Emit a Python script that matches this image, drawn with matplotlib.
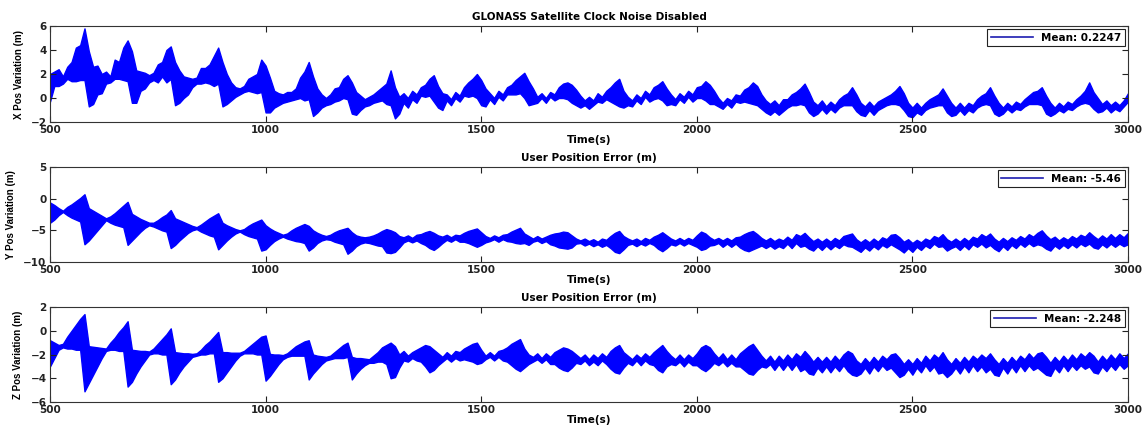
import matplotlib
matplotlib.use("Agg")
import matplotlib.pyplot as plt
from matplotlib.lines import Line2D

plt.rcParams["font.family"] = ["DejaVu Sans"]
plt.rcParams["font.weight"] = "bold"
plt.rcParams["font.size"] = 7.5

# sample times (s), one every 10 s from 500 to 3000
TIME_S = list(range(500, 3001, 10))

# X position error: upper / lower edge of the noise band (m), one row = 100 s
X_HI = [
    2.0, 2.2, 2.4, 1.8, 2.6, 3.0, 4.2, 4.4, 5.8, 3.9,
    2.6, 2.7, 2.0, 2.2, 1.8, 3.2, 3.0, 4.2, 4.8, 3.9,
    2.3, 2.2, 2.1, 1.9, 2.1, 2.8, 3.0, 4.0, 4.3, 3.0,
    2.3, 1.8, 1.7, 1.6, 1.7, 2.5, 2.5, 2.8, 3.5, 4.2,
    3.0, 2.0, 1.3, 0.9, 0.8, 1.0, 1.6, 1.8, 2.0, 3.2,
    2.7, 1.7, 0.6, 0.4, 0.3, 0.5, 0.5, 0.8, 1.7, 2.2,
    3.0, 1.8, 0.8, 0.3, 0.0, 0.3, 0.8, 0.9, 1.6, 1.9,
    1.3, 0.5, 0.2, -0.1, 0.1, 0.3, 0.6, 0.9, 1.2, 2.3,
    0.9, 0.1, 0.4, 0.0, 0.6, 0.3, 0.9, 1.1, 1.6, 1.9,
    1.0, 0.4, 0.3, -0.1, 0.5, 0.2, 0.9, 1.3, 1.6, 2.0,
    1.5, 0.8, 0.4, 0.0, 0.6, 0.3, 0.9, 1.1, 1.5, 1.8,
    2.1, 1.4, 0.8, 0.1, 0.4, 0.0, 0.5, 0.3, 0.9, 1.2,
    1.3, 1.1, 0.7, 0.2, -0.2, 0.1, -0.2, 0.4, 0.1, 0.6,
    0.9, 1.3, 1.6, 0.6, 0.1, -0.2, 0.3, 0.0, 0.6, 0.3,
    0.9, 1.1, 1.4, 0.8, 0.3, -0.1, 0.4, 0.1, 0.6, 0.3,
    0.9, 1.0, 1.4, 1.1, 0.6, 0.0, -0.4, 0.0, -0.2, 0.3,
    0.2, 0.7, 0.9, 1.3, 1.0, 0.3, -0.2, -0.5, -0.2, -0.6,
    -0.1, -0.1, 0.3, 0.5, 0.8, 1.2, 0.5, -0.3, -0.6, -0.2,
    -0.7, -0.3, -0.6, -0.1, 0.2, 0.4, 0.9, 0.3, -0.4, -0.7,
    -0.3, -0.7, -0.3, -0.1, 0.1, 0.3, 0.6, 1.0, 0.4, -0.4,
    -0.8, -0.4, -0.8, -0.4, -0.1, 0.1, 0.3, 0.8, 0.2, -0.4,
    -0.8, -0.4, -0.8, -0.4, -0.6, -0.1, 0.2, 0.4, 0.9, 0.2,
    -0.4, -0.8, -0.4, -0.7, -0.3, -0.5, -0.1, 0.2, 0.5, 0.6,
    0.9, 0.2, -0.4, -0.8, -0.4, -0.7, -0.3, -0.5, -0.1, 0.2,
    0.6, 1.3, 0.5, 0.0, -0.5, -0.2, -0.6, -0.3, -0.6, -0.2,
    0.4,
]
X_LO = [
    -0.3, 1.0, 1.0, 1.2, 1.6, 1.4, 1.4, 1.5, 1.5, -0.7,
    -0.5, 0.3, 0.4, 1.2, 1.3, 1.6, 1.6, 1.5, 1.4, -0.4,
    -0.4, 0.6, 0.8, 1.3, 1.5, 1.3, 1.8, 1.3, 1.6, -0.6,
    -0.4, 0.0, 0.3, 0.9, 1.2, 1.2, 1.3, 1.2, 1.0, 1.2,
    -0.7, -0.5, -0.2, 0.1, 0.3, 0.5, 0.6, 0.5, 0.4, 0.5,
    -1.2, -1.2, -0.8, -0.6, -0.4, -0.3, -0.2, -0.1, 0.0, -0.2,
    -0.1, -1.5, -1.2, -0.8, -0.6, -0.5, -0.3, -0.2, 0.0, -0.1,
    -1.3, -1.4, -1.0, -0.7, -0.6, -0.4, -0.3, -0.2, -0.5, -0.6,
    -1.7, -1.3, -0.4, -0.8, -0.1, -0.4, 0.2, 0.1, 0.2, -0.3,
    -0.8, -1.0, -0.2, -0.6, 0.0, -0.3, 0.2, 0.1, 0.2, 0.0,
    -0.6, -0.7, -0.1, -0.5, 0.1, -0.2, 0.3, 0.3, 0.3, 0.4,
    0.0, -0.6, -0.5, -0.4, 0.0, -0.4, 0.1, -0.2, 0.0, 0.0,
    -0.1, -0.4, -0.6, -0.8, -0.6, -0.9, -0.6, -0.3, -0.4, -0.1,
    -0.3, -0.5, -0.7, -0.8, -0.6, -0.7, -0.2, -0.5, 0.1, -0.3,
    -0.1, 0.0, -0.2, -0.6, -0.5, -0.6, -0.1, -0.4, 0.1, -0.3,
    0.0, 0.0, -0.2, -0.5, -0.5, -0.7, -0.9, -0.5, -0.8, -0.3,
    -0.4, -0.3, -0.4, -0.5, -0.6, -0.9, -1.2, -1.4, -1.1, -1.4,
    -1.1, -0.8, -0.6, -0.6, -0.5, -0.6, -1.2, -1.5, -1.3, -0.9,
    -1.3, -0.9, -1.2, -0.8, -0.6, -0.6, -0.6, -1.1, -1.4, -1.5,
    -1.0, -1.4, -1.0, -0.8, -0.6, -0.5, -0.5, -0.6, -1.0, -1.5,
    -1.6, -1.2, -1.4, -1.0, -0.8, -0.7, -0.6, -0.6, -1.2, -1.5,
    -1.4, -1.0, -1.4, -1.0, -1.2, -0.8, -0.6, -0.5, -0.6, -1.3,
    -1.5, -1.3, -0.9, -1.2, -0.9, -1.0, -0.7, -0.5, -0.5, -0.5,
    -0.6, -1.3, -1.5, -1.3, -1.0, -1.2, -0.9, -1.0, -0.7, -0.5,
    -0.4, -0.5, -0.9, -1.2, -1.1, -0.8, -1.2, -0.9, -1.1, -0.7,
    -0.3,
]

# Y position error band (m)
Y_HI = [
    -0.6, -1.0, -1.5, -1.9, -1.3, -0.9, -0.4, 0.1, 0.7, -1.5,
    -1.9, -2.3, -2.7, -3.1, -2.8, -2.3, -1.7, -1.1, -0.5, -2.4,
    -2.8, -3.2, -3.5, -3.8, -3.8, -3.4, -2.9, -2.5, -1.8, -3.1,
    -3.4, -3.7, -4.0, -4.3, -4.5, -4.1, -3.6, -3.1, -2.7, -2.3,
    -3.8, -4.2, -4.5, -4.8, -5.0, -4.8, -4.3, -3.9, -3.6, -3.3,
    -4.2, -4.7, -5.1, -5.4, -5.7, -5.5, -5.0, -4.6, -4.3, -4.0,
    -4.3, -5.0, -5.4, -5.7, -5.9, -5.7, -5.3, -5.0, -4.8, -4.6,
    -5.3, -5.8, -6.0, -6.1, -6.0, -5.8, -5.5, -5.1, -4.8, -5.0,
    -5.3, -5.9, -6.1, -5.8, -6.2, -5.7, -5.6, -5.3, -5.1, -5.4,
    -5.8, -6.0, -5.7, -6.1, -5.7, -5.8, -5.4, -5.1, -4.9, -4.7,
    -5.3, -5.9, -6.2, -5.8, -6.1, -5.7, -5.6, -5.2, -4.9, -4.6,
    -5.5, -5.9, -6.3, -5.9, -6.3, -6.0, -5.7, -5.5, -5.4, -5.2,
    -5.3, -5.8, -6.3, -6.6, -6.3, -6.7, -6.4, -6.8, -6.3, -6.5,
    -5.9, -5.4, -5.1, -5.9, -6.3, -6.6, -6.3, -6.7, -6.2, -6.5,
    -6.0, -5.7, -5.3, -5.8, -6.3, -6.6, -6.2, -6.6, -6.2, -6.5,
    -5.8, -5.2, -5.5, -6.1, -6.5, -6.2, -6.6, -6.2, -6.6, -6.1,
    -6.0, -5.6, -5.3, -5.1, -5.6, -6.2, -6.6, -6.2, -6.7, -6.3,
    -6.6, -6.0, -6.5, -5.6, -5.9, -5.4, -6.1, -6.7, -6.3, -6.8,
    -6.3, -6.8, -6.2, -6.6, -5.9, -5.7, -5.5, -6.4, -6.9, -6.4,
    -6.9, -6.3, -6.8, -6.1, -6.4, -5.7, -5.6, -6.1, -6.8, -6.4,
    -7.0, -6.5, -6.9, -6.3, -6.6, -5.9, -6.2, -5.6, -6.4, -6.8,
    -6.3, -6.8, -6.2, -6.7, -6.0, -6.3, -5.6, -6.0, -5.5, -6.3,
    -6.8, -6.2, -6.7, -6.1, -6.5, -5.9, -6.3, -5.6, -6.0, -5.4,
    -5.0, -5.8, -6.4, -6.0, -6.6, -6.1, -6.5, -5.9, -6.3, -5.7,
    -6.0, -5.3, -5.9, -6.4, -5.8, -6.3, -5.6, -6.2, -5.6, -6.1,
    -5.4,
]
Y_LO = [
    -3.8, -3.3, -2.6, -2.1, -2.6, -3.0, -3.3, -3.6, -7.2, -6.6,
    -5.8, -5.0, -4.2, -3.4, -3.8, -4.1, -4.3, -4.5, -7.3, -6.6,
    -5.9, -5.2, -4.6, -4.2, -4.4, -4.7, -5.0, -5.2, -7.8, -7.3,
    -6.6, -6.0, -5.4, -5.0, -4.8, -5.2, -5.5, -5.8, -6.0, -8.0,
    -7.3, -6.6, -6.0, -5.5, -5.2, -5.6, -5.9, -6.1, -6.3, -8.2,
    -8.0, -7.3, -6.7, -6.3, -6.0, -6.3, -6.5, -6.7, -6.8, -7.0,
    -8.2, -7.7, -7.0, -6.6, -6.4, -6.5, -6.8, -7.0, -7.2, -8.7,
    -8.2, -7.5, -7.1, -6.9, -7.0, -7.2, -7.4, -7.5, -8.5, -8.6,
    -8.4, -7.7, -6.9, -6.6, -6.9, -6.6, -7.0, -7.3, -7.8, -8.1,
    -7.6, -7.0, -6.5, -6.8, -6.4, -6.8, -6.8, -7.0, -7.3, -7.6,
    -7.3, -6.9, -6.7, -6.4, -6.8, -6.4, -6.7, -6.8, -7.0, -7.1,
    -7.0, -7.3, -6.8, -6.6, -7.0, -6.7, -7.2, -7.4, -7.7, -7.8,
    -7.9, -7.7, -7.1, -7.0, -7.4, -7.1, -7.5, -7.2, -7.6, -7.3,
    -7.8, -8.4, -8.6, -8.0, -7.3, -7.1, -7.5, -7.1, -7.4, -7.0,
    -7.3, -7.9, -8.3, -7.8, -7.2, -7.4, -7.0, -7.4, -7.0, -7.3,
    -7.6, -8.1, -7.9, -7.4, -7.3, -7.0, -7.6, -7.1, -7.6, -7.1,
    -7.7, -8.1, -8.3, -8.0, -7.7, -7.4, -7.8, -7.4, -7.9, -7.5,
    -7.8, -7.1, -7.8, -7.0, -7.6, -7.4, -7.9, -8.2, -7.5, -8.1,
    -7.4, -8.0, -7.4, -7.8, -7.2, -7.5, -7.6, -8.0, -8.4, -7.7,
    -8.2, -7.5, -8.0, -7.3, -7.7, -7.2, -7.6, -8.0, -8.5, -7.8,
    -8.4, -7.6, -8.1, -7.4, -7.8, -7.1, -7.6, -7.5, -8.2, -7.8,
    -7.5, -8.1, -7.4, -8.0, -7.2, -7.6, -7.1, -7.7, -7.3, -7.9,
    -8.3, -7.5, -8.1, -7.3, -7.8, -7.1, -7.6, -7.0, -7.5, -7.2,
    -7.4, -7.9, -8.2, -7.4, -7.9, -7.3, -7.8, -7.2, -7.7, -7.1,
    -7.5, -7.1, -7.7, -7.9, -7.2, -7.7, -7.1, -7.6, -7.1, -7.5,
    -7.2,
]

# Z position error band (m)
Z_HI = [
    -0.8, -1.0, -1.2, -1.1, -0.5, 0.0, 0.5, 1.0, 1.4, -1.3,
    -1.35, -1.4, -1.45, -1.5, -1.0, -0.6, -0.1, 0.3, 0.8, -1.6,
    -1.65, -1.7, -1.7, -1.75, -1.5, -1.1, -0.7, -0.3, 0.2, -1.8,
    -1.85, -1.9, -1.9, -1.95, -1.9, -1.6, -1.2, -0.9, -0.5, -0.1,
    -1.8, -1.8, -1.85, -1.85, -1.85, -1.7, -1.4, -1.1, -0.8, -0.5,
    -0.4, -1.95, -2.0, -2.0, -2.05, -1.9, -1.6, -1.3, -1.1, -0.9,
    -0.8, -2.0, -2.1, -2.15, -2.2, -2.1, -1.8, -1.5, -1.2, -1.0,
    -2.2, -2.3, -2.3, -2.35, -2.4, -2.1, -1.8, -1.4, -1.2, -1.0,
    -1.3, -2.0, -1.7, -2.1, -1.8, -1.6, -1.4, -1.2, -1.3, -1.6,
    -1.9, -2.2, -1.8, -2.1, -1.7, -1.8, -1.5, -1.3, -1.1, -1.0,
    -1.6, -2.1, -1.8, -2.1, -1.7, -1.6, -1.4, -1.1, -0.9, -0.7,
    -1.5, -2.0, -2.2, -1.9, -2.3, -1.9, -2.2, -1.8, -1.6, -1.4,
    -1.5, -1.7, -2.0, -2.3, -2.0, -2.4, -2.0, -2.3, -1.9, -2.2,
    -1.7, -1.4, -1.2, -1.8, -2.1, -2.4, -2.0, -2.3, -1.9, -2.2,
    -1.8, -1.5, -1.2, -1.7, -2.1, -2.4, -2.0, -2.4, -2.0, -2.3,
    -1.9, -1.4, -1.2, -1.4, -1.9, -2.3, -1.9, -2.4, -2.0, -2.4,
    -1.9, -1.6, -1.3, -1.1, -1.6, -2.1, -2.5, -2.1, -2.6, -2.1,
    -2.5, -2.0, -2.4, -1.9, -2.2, -1.7, -2.1, -2.6, -2.2, -2.6,
    -2.2, -2.6, -2.1, -2.5, -2.0, -1.7, -1.9, -2.5, -2.8, -2.3,
    -2.7, -2.2, -2.6, -2.1, -2.4, -2.0, -1.9, -2.3, -2.8, -2.4,
    -2.8, -2.3, -2.7, -2.1, -2.5, -2.0, -2.3, -1.8, -2.4, -2.8,
    -2.3, -2.7, -2.2, -2.6, -2.1, -2.4, -2.0, -2.3, -1.9, -2.4,
    -2.8, -2.3, -2.7, -2.2, -2.6, -2.1, -2.4, -1.9, -2.3, -1.9,
    -1.8, -2.2, -2.7, -2.2, -2.6, -2.1, -2.5, -2.0, -2.4, -1.9,
    -2.2, -1.8, -2.1, -2.6, -2.1, -2.5, -2.0, -2.4, -1.9, -2.3,
    -1.9,
]
Z_LO = [
    -3.0, -2.3, -1.6, -1.4, -1.5, -1.5, -1.6, -1.6, -5.1, -4.4,
    -3.7, -3.0, -2.3, -1.7, -1.6, -1.6, -1.7, -1.7, -4.7, -4.3,
    -3.6, -3.0, -2.5, -2.0, -1.9, -1.9, -2.0, -2.0, -4.5, -4.1,
    -3.5, -3.0, -2.6, -2.2, -2.1, -2.0, -2.0, -1.9, -1.9, -4.3,
    -4.0, -3.5, -3.0, -2.5, -2.1, -1.9, -1.9, -1.9, -2.0, -2.0,
    -4.2, -3.8, -3.3, -2.8, -2.4, -2.2, -2.1, -2.1, -2.1, -2.1,
    -4.1, -3.6, -3.2, -2.8, -2.5, -2.4, -2.3, -2.3, -2.3, -2.2,
    -4.1, -3.6, -3.2, -2.9, -2.7, -2.7, -2.6, -2.6, -2.8, -4.0,
    -3.9, -3.1, -2.5, -2.6, -2.3, -2.5, -2.6, -3.0, -3.5, -3.3,
    -2.9, -2.6, -2.3, -2.6, -2.3, -2.5, -2.4, -2.5, -2.6, -2.8,
    -2.7, -2.4, -2.2, -2.5, -2.2, -2.5, -2.6, -2.9, -3.2, -3.4,
    -3.1, -2.8, -2.6, -2.4, -2.7, -2.4, -2.8, -2.8, -3.1, -3.3,
    -3.4, -3.1, -2.7, -2.8, -2.5, -2.9, -2.6, -2.9, -2.5, -2.8,
    -3.2, -3.5, -3.6, -3.1, -2.7, -2.9, -2.5, -2.9, -2.5, -2.8,
    -2.9, -3.3, -3.5, -3.0, -2.8, -2.9, -2.6, -3.0, -2.6, -2.9,
    -2.9, -3.2, -3.4, -3.1, -2.7, -2.9, -2.6, -3.0, -2.7, -3.0,
    -3.0, -3.3, -3.6, -3.7, -3.3, -3.0, -3.1, -2.8, -3.3, -2.8,
    -3.3, -2.8, -3.3, -2.8, -3.4, -3.2, -3.6, -3.7, -3.1, -3.5,
    -3.0, -3.5, -3.0, -3.4, -2.9, -3.4, -3.7, -3.8, -3.6, -3.1,
    -3.6, -3.0, -3.4, -2.9, -3.3, -3.1, -3.5, -3.9, -3.7, -3.2,
    -3.7, -3.1, -3.5, -2.9, -3.4, -3.0, -3.6, -3.5, -3.9, -3.6,
    -3.1, -3.6, -3.0, -3.5, -2.9, -3.4, -3.0, -3.5, -3.2, -3.7,
    -3.8, -3.1, -3.6, -3.0, -3.5, -2.9, -3.4, -2.9, -3.3, -3.1,
    -3.4, -3.7, -3.8, -3.1, -3.5, -2.9, -3.4, -2.9, -3.3, -2.9,
    -3.2, -3.0, -3.5, -3.6, -3.0, -3.4, -2.9, -3.3, -2.8, -3.2,
    -2.9,
]

TITLES = ["GLONASS Satellite Clock Noise Disabled", "User Position Error (m)", "User Position Error (m)"]
Y_LABELS = ["X Pos Variation (m)", "Y Pos Variation (m)", "Z Pos Variation (m)"]
MEAN_LABELS = ["Mean: 0.2247", "Mean: -5.46", "Mean: -2.248"]
Y_LIMS = [(-2, 6), (-10, 5), (-6, 2)]
Y_TICKS = [[-2, 0, 2, 4, 6], [-10, -5, 0, 5], [-6, -4, -2, 0, 2]]
X_TICKS = [500, 1000, 1500, 2000, 2500, 3000]

fig = plt.figure(figsize=(11.44, 4.29), dpi=100)

# axes boxes in figure fractions (left, bottom, width, height)
boxes = [
    [0.0437, 0.7156, 0.9423, 0.2238],
    [0.0437, 0.3893, 0.9423, 0.2214],
    [0.0437, 0.0629, 0.9423, 0.2215],
]
bands = [(X_LO, X_HI), (Y_LO, Y_HI), (Z_LO, Z_HI)]

for i in range(3):
    ax = fig.add_axes(boxes[i])
    lo, hi = bands[i]
    ax.fill_between(TIME_S, lo, hi, facecolor="#0000ff", edgecolor="#0000ff", linewidth=1.0)

    ax.set_xlim(500, 3000)
    ax.set_ylim(*Y_LIMS[i])
    ax.set_xticks(X_TICKS)
    ax.set_yticks(Y_TICKS[i])
    ax.tick_params(direction="in", top=True, right=True, length=4.5, width=0.8,
                   pad=2.5, labelsize=7.5, colors="#222222")
    for s in ax.spines.values():
        s.set_color("#333333")
        s.set_linewidth(0.8)

    ax.set_title(TITLES[i], fontsize=7.5, fontweight="bold", pad=4)
    ax.set_xlabel("Time(s)", fontsize=7.5, fontweight="bold", labelpad=0)
    # the vertical label is narrower in the original, so a condensed face is used
    ax.set_ylabel(Y_LABELS[i], fontsize=7, fontweight="bold", labelpad=5,
                  family=["Liberation Sans", "DejaVu Sans"])

    handle = Line2D([], [], color="#1c1cb0", linewidth=1.2)
    leg = ax.legend([handle], [MEAN_LABELS[i]], loc="upper right", fancybox=False,
                    framealpha=1, edgecolor="#222222", handlelength=4.0,
                    borderaxespad=0.3, borderpad=0.35, prop={"weight": "bold", "size": 7.5})
    leg.get_frame().set_linewidth(0.8)

fig.savefig("out.png", dpi=100)
